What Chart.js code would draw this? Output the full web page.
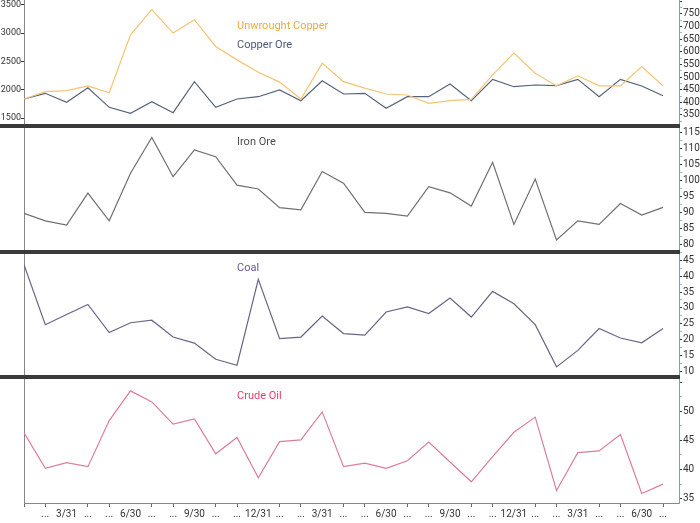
<!DOCTYPE html>
<html>
<head>
<meta charset="utf-8">
<script src="https://cdn.jsdelivr.net/npm/chart.js@4.4.1/dist/chart.umd.min.js"></script>
<style>
  html, body { margin: 0; padding: 0; background: #fff; }
  #wrap { width: 700px; height: 523px; }
</style>
</head>
<body>
<div id="wrap"><canvas id="chart"></canvas></div>
<script>
// month-end labels, first month has none
const months = ['', '...', '3/31', '...', '...', '6/30', '...', '...', '9/30', '...', '...', '12/31',
	'...', '...', '3/31', '...', '...', '6/30', '...', '...', '9/30', '...', '...', '12/31',
	'...', '...', '3/31', '...', '...', '6/30', '...'];

// left axis ticks of the copper panel
const copperOreTicks = [1500, 2000, 2500, 3000, 3500];

const unwroughtCopper = [413, 442, 446, 465, 438, 667, 767, 674, 727, 621, 568, 519, 480, 413, 555, 482,
	456, 433, 429, 396, 407, 412, 509, 595, 515, 465, 505, 465, 465, 542, 465];
const copperOre = [1836, 1937, 1778, 2036, 1689, 1583, 1789, 1594, 2142, 1689, 1836, 1877, 1996, 1806, 2160, 1925,
	1937, 1672, 1877, 1877, 2102, 1806, 2184, 2054, 2084, 2072, 2184, 1877, 2184, 2066, 1894];
const ironOre = [89.8, 87.5, 86.2, 96.1, 87.5, 102.3, 113.4, 101.2, 109.5, 107.4, 98.6, 97.4, 91.6, 90.9, 102.8, 99.2,
	90.1, 89.8, 89.0, 98.1, 96.2, 92.1, 105.7, 86.4, 100.5, 81.6, 87.5, 86.4, 92.9, 89.3, 91.7];
const coal = [43.6, 24.7, 27.9, 31.1, 22.2, 25.3, 26.1, 20.8, 18.9, 13.8, 11.9, 39.0, 20.3, 20.8, 27.4, 21.9,
	21.4, 28.7, 30.3, 28.2, 33.1, 27.1, 35.2, 31.3, 24.7, 11.4, 16.6, 23.5, 20.5, 19.0, 23.5];
const crudeOil = [46.3, 40.2, 41.2, 40.5, 48.4, 53.5, 51.6, 47.8, 48.7, 42.7, 45.5, 38.6, 44.8, 45.1, 49.9, 40.5,
	41.1, 40.2, 41.5, 44.7, 41.3, 37.9, 42.2, 46.4, 49.0, 36.4, 42.9, 43.2, 46.0, 35.9, 37.5];

const toPoints = arr => arr.map((v, i) => ({ x: i, y: v }));

Chart.defaults.font.family = 'Roboto, "Liberation Sans", sans-serif';
Chart.defaults.color = '#333';

// right axis (one per panel, stacked top to bottom)
function rightAxis(min, max, step, labelMax, weight) {
	return {
		type: 'linear', position: 'right', stack: 'r', stackWeight: 1, weight: weight,
		min: min, max: max,
		border: { color: '#8a9bb0' },
		grid: {
			drawOnChartArea: false, tickLength: 3,
			tickColor: ctx => (ctx.tick && ctx.tick.value % step === 0) ? '#2b3f55' : '#a8b4c2'
		},
		ticks: {
			stepSize: step / 2, autoSkip: false, includeBounds: false, padding: 1,
			font: { size: 10 },
			callback: v => (v % step === 0 && v <= labelMax) ? v : ''
		},
		afterFit: s => { s.width = 21; s.paddingTop = 0; s.paddingBottom = 0; }
	};
}

// blank left axis for the lower panels
function blankLeft(weight) {
	return {
		type: 'linear', position: 'left', stack: 'l', stackWeight: 1, weight: weight,
		min: 0, max: 1,
		border: { color: '#888' },
		grid: { display: false },
		ticks: { display: false },
		afterFit: s => { s.width = 24; s.paddingTop = 0; s.paddingBottom = 0; }
	};
}

const separators = {
	id: 'separators',
	afterDraw(chart) {
		const ctx = chart.ctx;
		ctx.save();
		ctx.fillStyle = '#3a3a3a';
		['yIron', 'yCoal', 'yOil'].forEach(id => {
			const y = Math.round(chart.scales[id].top);
			ctx.fillRect(0, y - 2, chart.chartArea.right + 1, 4);
		});
		ctx.restore();
	}
};

const seriesNames = {
	id: 'seriesNames',
	afterDatasetsDraw(chart) {
		const ctx = chart.ctx;
		const x = chart.scales.x.getPixelForValue(10);
		ctx.save();
		ctx.font = '11px Roboto, "Liberation Sans", sans-serif';
		ctx.textBaseline = 'middle';
		chart.data.datasets.forEach(ds => {
			ctx.fillStyle = ds.nameColor;
			ctx.fillText(ds.label, x, chart.scales[ds.panelAxis].top + ds.nameOffset);
		});
		ctx.restore();
	}
};

new Chart(document.getElementById('chart'), {
	type: 'line',
	data: {
		datasets: [
			{ label: 'Unwrought Copper', data: toPoints(unwroughtCopper), yAxisID: 'yCopper', panelAxis: 'yCopper',
				borderColor: '#f5c473', nameColor: '#f0a83c', nameOffset: 26 },
			{ label: 'Copper Ore', data: toPoints(copperOre), yAxisID: 'yCopperOre', panelAxis: 'yCopper',
				borderColor: '#56637b', nameColor: '#4a5870', nameOffset: 45 },
			{ label: 'Iron Ore', data: toPoints(ironOre), yAxisID: 'yIron', panelAxis: 'yIron',
				borderColor: '#707070', nameColor: '#4d4d4d', nameOffset: 16 },
			{ label: 'Coal', data: toPoints(coal), yAxisID: 'yCoal', panelAxis: 'yCoal',
				borderColor: '#6a6585', nameColor: '#6b5a8e', nameOffset: 17 },
			{ label: 'Crude Oil', data: toPoints(crudeOil), yAxisID: 'yOil', panelAxis: 'yOil',
				borderColor: '#dc7e98', nameColor: '#e0446a', nameOffset: 19 }
		]
	},
	options: {
		responsive: true,
		maintainAspectRatio: false,
		animation: false,
		layout: { padding: 0 },
		elements: {
			line: { borderWidth: 1.2, tension: 0 },
			point: { radius: 0 }
		},
		plugins: {
			legend: { display: false },
			tooltip: { enabled: false }
		},
		scales: {
			x: {
				type: 'linear', min: 0, max: 30.75,
				border: { color: '#888' },
				grid: {
					drawOnChartArea: false, tickLength: 4,
					tickColor: ctx => (ctx.tick && months[ctx.tick.value] && months[ctx.tick.value] !== '...') ? 'rgba(0,0,0,0)' : '#666'
				},
				ticks: {
					stepSize: 1, autoSkip: false, maxRotation: 0, includeBounds: false, padding: 1,
					font: { size: 10 },
					callback: v => months[v] !== undefined ? months[v] : ''
				},
				afterFit: s => { s.height = 20; s.paddingLeft = 0; s.paddingRight = 0; }
			},
			yCopperOre: {
				type: 'linear', position: 'left', stack: 'l', stackWeight: 1, weight: 4,
				min: 1363, max: 3588,
				border: { color: '#888' },
				grid: { drawOnChartArea: false, tickLength: 3, tickColor: '#333' },
				ticks: { autoSkip: false, padding: 0, font: { size: 9 }, callback: v => String(v) },
				afterBuildTicks: s => { s.ticks = copperOreTicks.map(v => ({ value: v })); },
				afterFit: s => { s.width = 24; s.paddingTop = 0; s.paddingBottom = 0; }
			},
			l2: blankLeft(3),
			l3: blankLeft(2),
			l4: blankLeft(1),
			yCopper: rightAxis(307.3, 805, 50, 760, 1),
			yIron: rightAxis(77.98, 117.03, 5, 115, 2),
			yCoal: rightAxis(8.12, 47.78, 5, 45, 3),
			yOil: rightAxis(34.26, 55.84, 5, 50, 4)
		}
	},
	plugins: [separators, seriesNames]
});
</script>
</body>
</html>
